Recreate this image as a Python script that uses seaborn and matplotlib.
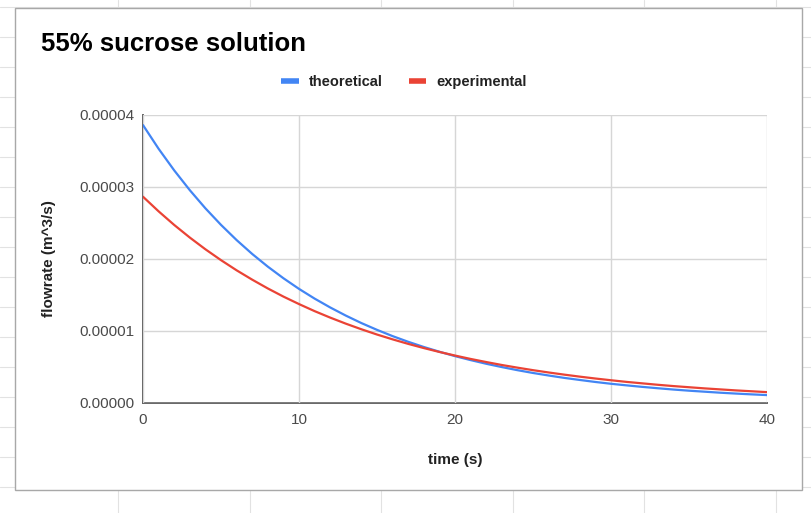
import numpy as np
import pandas as pd
import matplotlib
matplotlib.use("Agg")
import matplotlib.pyplot as plt
from matplotlib.lines import Line2D
from matplotlib.patches import Rectangle
from matplotlib.ticker import FuncFormatter
import seaborn as sns

# ---- data ----
time_s = list(range(0, 41))
theoretical = [3.860, 3.531, 3.231, 2.956, 2.704, 2.474, 2.263, 2.070, 1.894, 1.733,
               1.585, 1.450, 1.327, 1.214, 1.110, 1.016, 0.929, 0.850, 0.778, 0.712,
               0.651, 0.596, 0.545, 0.499, 0.456, 0.417, 0.382, 0.349, 0.320, 0.292,
               0.267, 0.245, 0.224, 0.205, 0.187, 0.171, 0.157, 0.143, 0.131, 0.120,
               0.110]  # x 1e-5 m^3/s
experimental = [2.865, 2.662, 2.473, 2.298, 2.135, 1.984, 1.843, 1.713, 1.591, 1.478,
                1.374, 1.276, 1.186, 1.102, 1.024, 0.951, 0.884, 0.821, 0.763, 0.709,
                0.659, 0.612, 0.569, 0.528, 0.491, 0.456, 0.424, 0.394, 0.366, 0.340,
                0.316, 0.293, 0.273, 0.253, 0.235, 0.219, 0.203, 0.189, 0.175, 0.163,
                0.151]  # x 1e-5 m^3/s
series_names = ["theoretical", "experimental"]
x_ticks = [0, 10, 20, 30, 40]
y_ticks = [0.0, 0.00001, 0.00002, 0.00003, 0.00004]

df = pd.DataFrame({
    "time": time_s * 2,
    "flow": [v * 1e-5 for v in theoretical] + [v * 1e-5 for v in experimental],
    "series": [series_names[0]] * len(time_s) + [series_names[1]] * len(time_s),
})

sns.set_theme(style="white")
plt.rcParams["font.family"] = ["Liberation Sans", "DejaVu Sans"]

W, H = 811, 513
fig = plt.figure(figsize=(W / 100, H / 100), dpi=100)
fig.patch.set_facecolor("white")

# spreadsheet cell grid in the background
for xv in [118, 250, 381, 513, 644, 776]:
    fig.add_artist(Line2D([xv / W, xv / W], [0, 1], color="#e2e2e2", lw=0.8, zorder=0))
for yv in np.arange(6.7, 520, 30):
    fig.add_artist(Line2D([0, 1], [1 - yv / H, 1 - yv / H], color="#e2e2e2", lw=0.8, zorder=0))
# chart card
fig.add_artist(Rectangle((15 / W, 1 - 490 / H), (802 - 15) / W, (490 - 8) / H,
                         facecolor="white", edgecolor="#a8a8a8", lw=1.0, zorder=1))

ax = fig.add_axes([143 / W, 1 - 403 / H, (767 - 143) / W, (403 - 115) / H], zorder=2)
ax.set_facecolor("white")

palette = {"theoretical": "#4285F4", "experimental": "#EA4335"}
sns.lineplot(data=df, x="time", y="flow", hue="series", palette=palette,
             linewidth=1.6, ax=ax, legend=False)

ax.set_xlim(0, 40)
ax.set_ylim(0, 0.00004)
ax.set_xticks(x_ticks)
ax.set_yticks(y_ticks)
ax.yaxis.set_major_formatter(FuncFormatter(lambda v, p: f"{v:.5f}"))
ax.grid(True, color="#d6d6d6", lw=1.0)
ax.set_axisbelow(True)
for s in ["top", "right"]:
    ax.spines[s].set_visible(False)
for s in ["left", "bottom"]:
    ax.spines[s].set_color("#666666")
    ax.spines[s].set_linewidth(1.4)
    ax.spines[s].set_zorder(0.5)
ax.tick_params(axis="both", length=0, labelsize=11, labelcolor="#4a4a4a")
ax.tick_params(axis="y", pad=6)
ax.tick_params(axis="x", pad=7)

ax.set_xlabel("time (s)", fontsize=11, fontweight="bold", color="#222222", labelpad=19)
ax.set_ylabel("flowrate (m^3/s)", fontsize=11, fontweight="bold", color="#222222", labelpad=17)

fig.text(41 / W, 1 - 44 / H, "55% sucrose solution", fontsize=18.5, fontweight="bold",
         color="#000000", va="center", ha="left", zorder=3)

handles = [Line2D([0], [0], color=palette[n], lw=4, solid_capstyle="butt") for n in series_names]
fig.legend(handles, series_names, loc="center", bbox_to_anchor=(404 / W, 1 - 82 / H),
           ncol=2, frameon=False, handlelength=1.2, handletextpad=0.7, columnspacing=1.8,
           prop={"size": 10.5, "weight": "bold"}, labelcolor="#222222")

fig.savefig("out.png", dpi=100, facecolor="white")
